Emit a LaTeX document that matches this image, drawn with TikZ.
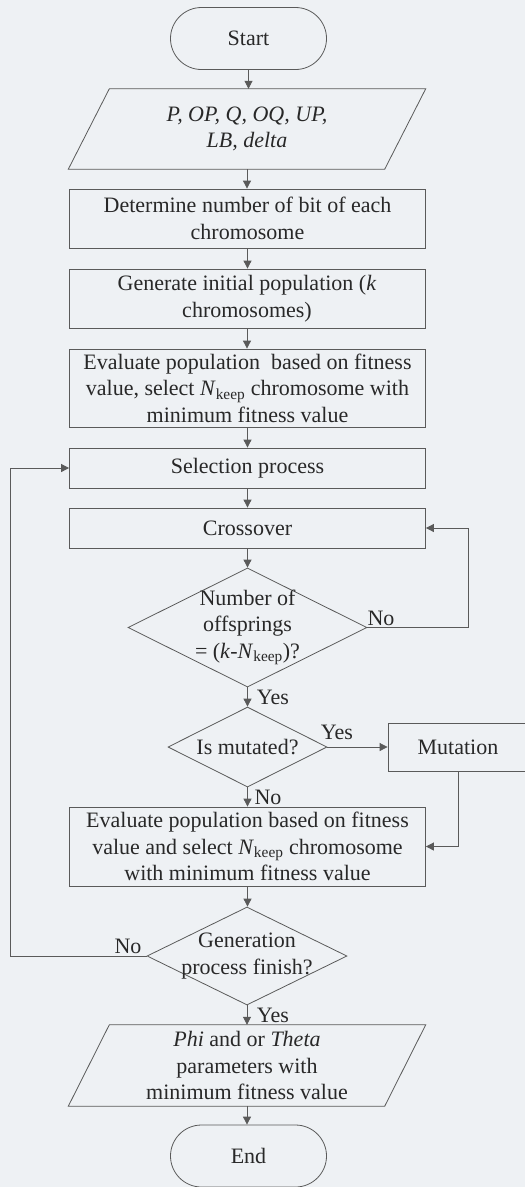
\documentclass[tikz,border=0pt]{standalone}
\usepackage{fontspec}
\setmainfont{Liberation Serif}
\usetikzlibrary{arrows.meta, shapes}
\usetikzlibrary{positioning}
\definecolor{paper}{RGB}{238,241,244}
\definecolor{ink}{RGB}{40,40,40}
\definecolor{edge}{RGB}{90,90,90}

\begin{document}
\begin{tikzpicture}[x=1pt,y=-1pt,font=\fontsize{22}{26.5}\selectfont,text=ink,
    box/.style={draw=edge,line width=0.8pt,minimum width=356pt,align=center},
    term/.style={draw=edge,line width=0.8pt,rounded corners=31pt,minimum width=156pt,minimum height=62pt},
    io/.style={minimum width=316pt,align=center},
    dec/.style={draw=edge,line width=0.8pt,diamond,inner sep=0pt},
    lab/.style={inner sep=0pt},
    arr/.style={draw=edge,line width=0.8pt,-{Triangle[length=8pt,width=8pt]}}]
\useasboundingbox (0,0) rectangle (525,1187);
\fill[paper] (0,0) rectangle (525,1187);
\node[term] (start) at (248.5,38.5) {Start};
\node[io,minimum height=80pt] (in) at (247,129) {\itshape P, OP, Q, OQ, UP,\\ \itshape LB, delta};
\node[box,minimum height=59pt] (b1) at (247.5,218.5) {Determine number of bit of each\\chromosome};
\node[box,minimum height=59pt] (b2) at (247,298.5) {Generate initial population (\textit{k}\\chromosomes)};
\node[box,minimum height=78pt] (b3) at (247.5,388) {Evaluate population\ \ based on fitness\\value, select \textit{N}\textsubscript{keep} chromosome with\\minimum fitness value};
\node[box,minimum height=40pt] (b4) at (247.5,468) {Selection process};
\node[box,minimum height=40pt] (b5) at (247.5,528) {Crossover};
\node[dec,minimum width=239pt,minimum height=119pt] (d1) at (247.5,627.5) {};
\node[align=center] (d1t) at (d1) {Number of\\offsprings\\= (\textit{k}-\textit{N}\textsubscript{keep})?};
\node[dec,minimum width=159pt,minimum height=80pt] (d2) at (247.5,747) {};
\node (d2t) at (d2) {Is mutated?};
\node[box,minimum width=140pt,minimum height=48pt] (mut) at (458,747) {Mutation};
\node[box,minimum height=79pt] (b6) at (247.5,846.5) {Evaluate population based on fitness\\value and select \textit{N}\textsubscript{keep} chromosome\\with minimum fitness value};
\node[dec,minimum width=200pt,minimum height=98pt] (d3) at (247,956) {};
\node[align=center] (d3t) at (d3) {Generation\\process finish?};
\node[io,minimum height=81pt] (out) at (247,1065.5) {\textit{Phi} and or \textit{Theta}\\parameters with\\minimum fitness value};
\node[term] (end) at (248.5,1156) {End};
\node[lab] (n1) at (381,618) {No};
\node[lab] (y1) at (273,697) {Yes};
\node[lab] (y2) at (337,732) {Yes};
\node[lab] (n2) at (268,797) {No};
\node[lab] (n3) at (128,946) {No};
\node[lab] (y3) at (273,1015) {Yes};
\foreach \p in {in, out}
    \draw[draw=edge,line width=0.8pt] ([xshift=-20.5pt]\p.south west) -- ([xshift=20.5pt]\p.north west)
        -- ([xshift=20.5pt]\p.north east) -- ([xshift=-20.5pt]\p.south east) -- cycle;
\foreach \a/\b in {start/in, in/b1, b1/b2, b2/b3, b3/b4, b4/b5, b5/d1, d1/d2, d2/b6, b6/d3, d3/out, out/end}
    \draw[arr] (\a.south) -- (\a.south |- \b.north);
\draw[arr] (d1.east) -- ++(101,0) |- (b5.east);
\draw[arr] (d2.east) -- (mut.west);
\draw[arr] (mut.south) |- (b6.east);
\draw[arr] (d3.west) -- ++(-136,0) |- (b4.west);
\end{tikzpicture}
\end{document}
